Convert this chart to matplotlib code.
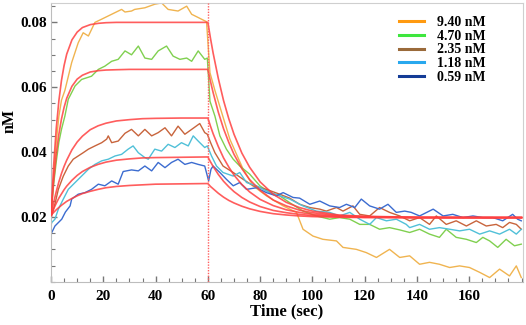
import matplotlib
matplotlib.use("Agg")
import matplotlib.pyplot as plt
from matplotlib.ticker import MultipleLocator

plt.rcParams["font.family"] = ["Liberation Serif", "DejaVu Serif"]
plt.rcParams["font.weight"] = "bold"

# ---------------------------------------------------------------------------
# Data
# ---------------------------------------------------------------------------
labels = ["9.40 nM", "4.70 nM", "2.35 nM", "1.18 nM", "0.59 nM"]
legend_colors = ["#ff9a10", "#3ee63e", "#9a6a3a", "#28a8ee", "#143c96"]
trace_colors = ["#f0b450", "#80d050", "#c8643c", "#50c0d8", "#3c6cd0"]

t_940 = [0, 1, 2, 3, 4, 5.3, 7.9, 10.4, 12.3, 14.3, 16.8, 19.4, 23.2, 27, 28.3,
         30.8, 32, 35.9, 39.7, 42.3, 44.8, 48.6, 51.9, 53.8, 56.3, 59.5, 60.8,
         62.7, 64.6, 68.4, 73.5, 77.3, 82.4, 88.8, 93.9, 96.4, 100.2, 104, 109.2,
         111.7, 116.8, 120.6, 124.5, 129.5, 133.4, 137.2, 141, 144.8, 148.6,
         152.5, 156.3, 160.1, 164, 167.8, 171.6, 175.4, 178, 179.9]
v_940 = [0.021, 0.032, 0.043, 0.051, 0.056, 0.059, 0.0676, 0.0737, 0.0768, 0.0758,
         0.080, 0.081, 0.0825, 0.084, 0.0832, 0.0835, 0.084, 0.0845, 0.0856, 0.086,
         0.084, 0.0835, 0.085, 0.0825, 0.0815, 0.0802, 0.0645, 0.059, 0.054, 0.044,
         0.0347, 0.0296, 0.0265, 0.0234, 0.0214, 0.0162, 0.0141, 0.0131, 0.0126,
         0.0106, 0.010, 0.009, 0.0075, 0.010, 0.0075, 0.008, 0.0054, 0.006, 0.0054,
         0.0044, 0.0049, 0.0044, 0.0029, 0.0013, 0.0039, 0.0018, 0.0049, 0.0013]

t_470 = [0, 1, 2, 3, 4, 5.3, 6.6, 9.2, 11.7, 15.5, 18.1, 20.6, 23.2, 25.7, 28.3,
         30.8, 33.4, 35.9, 38.5, 41, 44.2, 46.7, 49.3, 51.9, 53.8, 56.3, 58.8,
         59.8, 60.8, 62.7, 64.6, 67.1, 69.7, 72.2, 76, 79.9, 83.7, 87.5, 91.3,
         96.4, 101.5, 106.6, 110.4, 114.3, 118.1, 121.9, 125.7, 129.5, 133.4,
         137.2, 141, 144.8, 148.6, 151.2, 155, 158.9, 162.7, 165.2, 167.8, 170.9,
         174.1, 177.3, 179.9]
v_470 = [0.021, 0.030, 0.037, 0.043, 0.047, 0.0511, 0.0563, 0.0604, 0.0624, 0.0634,
         0.0655, 0.0665, 0.068, 0.0686, 0.0712, 0.070, 0.0727, 0.069, 0.0686,
         0.0712, 0.0727, 0.0696, 0.0686, 0.069, 0.068, 0.0712, 0.0686, 0.069,
         0.0557, 0.0511, 0.045, 0.0409, 0.0378, 0.0357, 0.0332, 0.0296, 0.0275,
         0.0265, 0.0244, 0.0218, 0.0203, 0.0193, 0.0198, 0.0193, 0.0177, 0.0177,
         0.0162, 0.0167, 0.0160, 0.0152, 0.0162, 0.0147, 0.0137, 0.0162, 0.0137,
         0.0131, 0.0121, 0.0137, 0.0126, 0.0106, 0.0131, 0.0111, 0.0116]

t_235 = [0, 1.5, 2.8, 4.7, 6.6, 8.5, 10.4, 12.3, 14.3, 16.8, 19.4, 21.3, 21.9,
         23.2, 25.7, 28.3, 30.8, 33.4, 35.9, 38.5, 41, 43.6, 46.1, 48.6, 51.2,
         53.8, 56.9, 58.8, 59.8, 61, 62.7, 65.8, 69.7, 73.5, 77.3, 82.4, 87.5,
         91.3, 95.1, 99, 102.8, 105.3, 109.2, 111.7, 115.5, 118.1, 121.9, 125.7,
         129.5, 133.4, 137.2, 141, 144.8, 147.4, 151.2, 155, 158.9, 162.7, 166.5,
         170.3, 172.8, 175.4, 178, 179.9]
v_235 = [0.0195, 0.024, 0.0285, 0.0326, 0.0357, 0.0378, 0.0388, 0.0398, 0.0409,
         0.0419, 0.0429, 0.044, 0.045, 0.0429, 0.0434, 0.0458, 0.047, 0.045, 0.047,
         0.045, 0.046, 0.0475, 0.045, 0.048, 0.0455, 0.047, 0.0488, 0.046, 0.0455,
         0.043, 0.0398, 0.0357, 0.0337, 0.0316, 0.0296, 0.0285, 0.027, 0.0258,
         0.0239, 0.0229, 0.0224, 0.0218, 0.0229, 0.0218, 0.0234, 0.0208, 0.0203,
         0.0229, 0.0214, 0.0203, 0.0188, 0.0198, 0.0177, 0.0203, 0.0177, 0.0188,
         0.0172, 0.0188, 0.0172, 0.0177, 0.0167, 0.0183, 0.0177, 0.0162]

t_118 = [0, 0.3, 1.5, 2.8, 4.7, 6.6, 9.2, 11.7, 14.3, 16.8, 19.4, 21.9, 24.5, 27,
         29.5, 31.4, 33.4, 35.9, 37.2, 39.7, 42.3, 44.8, 47.4, 49.9, 52.5, 54.4,
         56.3, 58.8, 59.8, 61.4, 63.3, 65.8, 69.7, 72.2, 74.8, 78.6, 82.4, 87.5,
         91.3, 96.4, 101.5, 106.6, 110.4, 114.3, 118.1, 121.9, 124.5, 128.3, 132.1,
         135.9, 137.2, 141, 144.8, 148.6, 152.5, 156.3, 160.1, 164, 167.8, 171.6,
         175.4, 178, 179.9]
v_118 = [0.0175, 0.0183, 0.0193, 0.0224, 0.0255, 0.0285, 0.0306, 0.0326, 0.0347,
         0.0362, 0.0373, 0.0378, 0.0388, 0.0393, 0.0409, 0.0419, 0.0398, 0.0383,
         0.0378, 0.0409, 0.0403, 0.0424, 0.0414, 0.0429, 0.0419, 0.045, 0.0434,
         0.0414, 0.0419, 0.0388, 0.0357, 0.0337, 0.0326, 0.0337, 0.0306, 0.0296,
         0.028, 0.0265, 0.0255, 0.0234, 0.0218, 0.0214, 0.0203, 0.0214, 0.0193,
         0.0177, 0.0198, 0.0188, 0.0193, 0.0177, 0.0167, 0.0177, 0.0162, 0.0167,
         0.0162, 0.0157, 0.0162, 0.0147, 0.0157, 0.0147, 0.0162, 0.0147, 0.0162]

t_059 = [0, 1.5, 4.1, 5.5, 7.3, 7.9, 10.4, 13, 15.5, 18.1, 20.6, 23.2, 25.7, 27.6,
         30.8, 33.4, 35.9, 38.5, 41, 43.6, 46.1, 48.6, 51.2, 53.8, 56.3, 58.8,
         60.3, 61.2, 62, 64.6, 67.1, 69.7, 72.2, 74.8, 78.6, 82.4, 86.2, 88.8,
         92.6, 95.1, 99, 102.8, 106.6, 110.4, 113, 116.2, 118.7, 121.9, 125.7,
         128.9, 132.1, 135.3, 137.8, 141, 146.2, 150, 153.7, 157.6, 161.4, 165.2,
         169, 172.8, 176.6, 178.5, 179.9]
v_059 = [0.0147, 0.0172, 0.0193, 0.0215, 0.0234, 0.0255, 0.027, 0.0275, 0.0285,
         0.0301, 0.0296, 0.0311, 0.0301, 0.0340, 0.0345, 0.0342, 0.0357, 0.0342,
         0.0368, 0.0352, 0.0368, 0.0378, 0.0362, 0.0368, 0.0362, 0.0357, 0.0311,
         0.0347, 0.0357, 0.0337, 0.0316, 0.0296, 0.0306, 0.0285, 0.029, 0.0275,
         0.0265, 0.0275, 0.026, 0.0258, 0.0239, 0.0249, 0.0234, 0.0229, 0.0239,
         0.0229, 0.0255, 0.0234, 0.0224, 0.0239, 0.0214, 0.0218, 0.0214, 0.0203,
         0.0224, 0.0203, 0.0208, 0.0198, 0.0203, 0.0198, 0.0198, 0.0188, 0.0208,
         0.0193, 0.0188]

# fitted 1:1 model curves (association 0-60 s, dissociation 60-180 s)
fit_time = [0, 1, 2, 3, 4, 5, 6, 8, 10, 12, 15, 18, 21, 25, 30, 35, 40, 50, 60,
            61, 62, 64, 66, 68, 70, 73, 76, 80, 85, 90, 95, 100, 110, 120, 140, 160, 180]
fit_940 = [0.0205, 0.0359, 0.0473, 0.0558, 0.0621, 0.0667, 0.0702, 0.0746, 0.0770,
           0.0784, 0.0793, 0.0797, 0.0799, 0.0800, 0.0800, 0.0800, 0.0800, 0.0800, 0.0800,
           0.0751, 0.0706, 0.0627, 0.0559, 0.0503, 0.0455, 0.0397, 0.0353, 0.0308,
           0.0270, 0.0245, 0.0229, 0.0218, 0.0206, 0.0202, 0.0199, 0.0198, 0.0198]
fit_470 = [0.0205, 0.0312, 0.0393, 0.0455, 0.0502, 0.0538, 0.0566, 0.0603, 0.0625,
           0.0637, 0.0647, 0.0651, 0.0653, 0.0654, 0.0655, 0.0655, 0.0655, 0.0655, 0.0655,
           0.0618, 0.0584, 0.0523, 0.0472, 0.0430, 0.0393, 0.0349, 0.0315, 0.0282,
           0.0252, 0.0234, 0.0221, 0.0213, 0.0204, 0.0201, 0.0198, 0.0198, 0.0198]
fit_235 = [0.0205, 0.0244, 0.0278, 0.0308, 0.0334, 0.0356, 0.0375, 0.0407, 0.0431,
           0.0449, 0.0469, 0.0481, 0.0489, 0.0496, 0.0500, 0.0503, 0.0504, 0.0505, 0.0505,
           0.0480, 0.0457, 0.0417, 0.0382, 0.0354, 0.0329, 0.0300, 0.0277, 0.0254,
           0.0235, 0.0222, 0.0214, 0.0208, 0.0202, 0.0200, 0.0198, 0.0198, 0.0198]
fit_118 = [0.0205, 0.0225, 0.0242, 0.0258, 0.0271, 0.0284, 0.0295, 0.0313, 0.0328,
           0.0340, 0.0353, 0.0362, 0.0369, 0.0375, 0.0379, 0.0382, 0.0383, 0.0384, 0.0385,
           0.0370, 0.0356, 0.0331, 0.0310, 0.0293, 0.0278, 0.0260, 0.0246, 0.0232,
           0.0220, 0.0213, 0.0208, 0.0204, 0.0201, 0.0199, 0.0198, 0.0198, 0.0198]
fit_059 = [0.0205, 0.0214, 0.0222, 0.0229, 0.0236, 0.0242, 0.0248, 0.0257, 0.0265,
           0.0272, 0.0279, 0.0285, 0.0290, 0.0294, 0.0297, 0.0299, 0.0301, 0.0302, 0.0303,
           0.0294, 0.0287, 0.0273, 0.0261, 0.0251, 0.0243, 0.0233, 0.0225, 0.0217,
           0.0210, 0.0206, 0.0203, 0.0201, 0.0199, 0.0198, 0.0198, 0.0198, 0.0198]

injection_end = 60

# ---------------------------------------------------------------------------
fig = plt.figure(figsize=(5.26, 3.25), dpi=100)
ax = fig.add_axes([0.097, 0.133, 0.897, 0.858])

traces = [(t_940, v_940), (t_470, v_470), (t_235, v_235), (t_118, v_118), (t_059, v_059)]
fits = [fit_940, fit_470, fit_235, fit_118, fit_059]

for (t, v), c in zip(traces, trace_colors):
    ax.plot(t, v, color=c, lw=1.0, zorder=2)
for f in fits:
    ax.plot(fit_time, f, color="#ff4040", lw=1.2, alpha=0.85, zorder=3)

ax.axvline(injection_end, color="#ff6060", lw=1.0, ls=(0, (1, 1)), zorder=4)

# legend uses the pure series colours
handles = [plt.Line2D([], [], color=c, lw=2.2) for c in legend_colors]
ax.legend(handles, labels, loc="upper right", bbox_to_anchor=(0.921, 0.953),
          frameon=False, fontsize=10, handlelength=1.8, handletextpad=0.9,
          labelspacing=0.05, borderaxespad=0, borderpad=0)

ax.set_xlim(0, 180.5)
ax.set_ylim(0, 0.086)
ax.xaxis.set_major_locator(MultipleLocator(20))
ax.xaxis.set_minor_locator(MultipleLocator(5))
ax.yaxis.set_minor_locator(MultipleLocator(0.005))
ax.set_yticks([0.02, 0.04, 0.06, 0.08])
ax.set_yticklabels(["0.02", "0.04", "0.06", "0.08"])
ax.set_xticks(range(0, 161, 20))
ax.tick_params(which="both", direction="in", color="#777777", labelsize=11)
ax.tick_params(which="major", length=4, width=1)
ax.tick_params(which="minor", length=3, width=0.8)
ax.tick_params(axis="x", pad=6)
ax.tick_params(axis="y", pad=3)

for s in ax.spines.values():
    s.set_color("#cfcfcf")
ax.spines["left"].set_color("#bdbdbd")
ax.spines["bottom"].set_color("#bdbdbd")

ax.set_xlabel("Time (sec)", fontsize=12, fontweight="bold", labelpad=0)
ax.set_ylabel("nM", fontsize=11.5, fontweight="bold", va="center", ha="center")
ax.yaxis.set_label_coords(-0.087, 0.575)

fig.savefig("out.png", dpi=100)
